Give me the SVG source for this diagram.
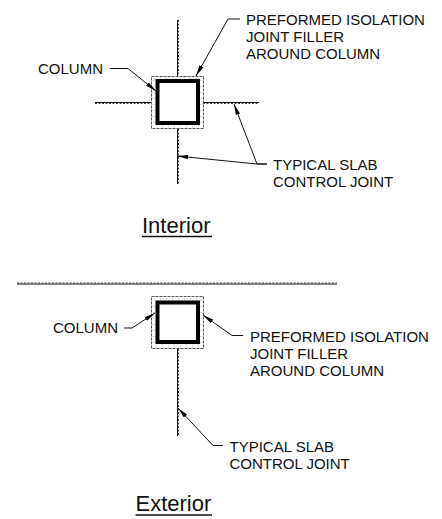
<svg xmlns="http://www.w3.org/2000/svg" width="442" height="519" viewBox="0 0 442 519">
<style>
text{font-family:"Liberation Sans",Arial,sans-serif;fill:#111}
.l{font-size:15px}
.t{font-size:22px}
.u{stroke:#111;stroke-width:1.500;fill:none}
.j{stroke:#111;stroke-width:1;fill:none}
.d{stroke:#444;stroke-width:1;stroke-dasharray:2 1.500;fill:none}
.o{stroke:#555;stroke-width:1;fill:none}
.h{stroke:#dcdcdc;stroke-width:3;stroke-dasharray:1 5;fill:none}
.c{stroke:#000;stroke-width:4;fill:#fff}
.ld{stroke:#111;stroke-width:1;fill:none;marker-end:url(#a)}
</style>
<defs>
<marker id="a" markerUnits="userSpaceOnUse" markerWidth="12" markerHeight="6" refX="11" refY="3" orient="auto"><path d="M0 0.800L11 3L0 5.200Z" fill="#000"/></marker>
</defs>
<rect width="442" height="519" fill="#fff"/>
<g id="joints">
<path class="j" d="M177.500 20V76M177.500 129V184M95 102.500H151M203 102.500H259M17 284H337M177.500 349V436"/>
<path class="d" d="M178.500 20V76M178.500 129V184M95 103.500H151M203 103.500H259M17 283H337M178.500 349V436"/>
</g>
<g id="interior-column">
<rect class="h" x="154" y="79" width="47" height="47"/>
<rect class="o" x="151.500" y="76.500" width="52" height="52" stroke-dasharray="3 1"/>
<rect class="c" x="157.500" y="81" width="40.500" height="42"/>
</g>
<g id="exterior-column">
<rect class="h" x="154" y="299" width="47" height="47"/>
<rect class="o" x="151.500" y="296.500" width="52" height="52" stroke-dasharray="3 1"/>
<rect class="c" x="157.500" y="302.500" width="40.500" height="39.500"/>
</g>
<g id="connectors">
<path class="ld" d="M110 68.500H128L156 91"/>
<path class="ld" d="M240 19H228L196 76"/>
<path class="ld" d="M267 164H257L234 104"/>
<path class="ld" d="M267 164H257L177 156"/>
<path class="ld" d="M124 328H132L155 313"/>
<path class="ld" d="M243 335.500H232L203 315"/>
<path class="ld" d="M223 445.500H213L178 408"/>
</g>
<g id="labels">
<text class="l" x="246" y="25">PREFORMED ISOLATION</text>
<text class="l" x="246" y="42">JOINT FILLER</text>
<text class="l" x="246" y="59">AROUND COLUMN</text>
<text class="l" x="38" y="74">COLUMN</text>
<text class="l" x="273" y="170">TYPICAL SLAB</text>
<text class="l" x="273" y="187">CONTROL JOINT</text>
<text class="l" x="53" y="333">COLUMN</text>
<text class="l" x="250" y="341.500">PREFORMED ISOLATION</text>
<text class="l" x="250" y="358.500">JOINT FILLER</text>
<text class="l" x="250" y="375.500">AROUND COLUMN</text>
<text class="l" x="229.500" y="451.500">TYPICAL SLAB</text>
<text class="l" x="229.500" y="468.500">CONTROL JOINT</text>
<text class="t" x="142" y="233">Interior</text>
<path class="u" d="M142 236.500H212"/>
<text class="t" x="135.500" y="511">Exterior</text>
<path class="u" d="M135.500 515H212"/>
</g>
</svg>
